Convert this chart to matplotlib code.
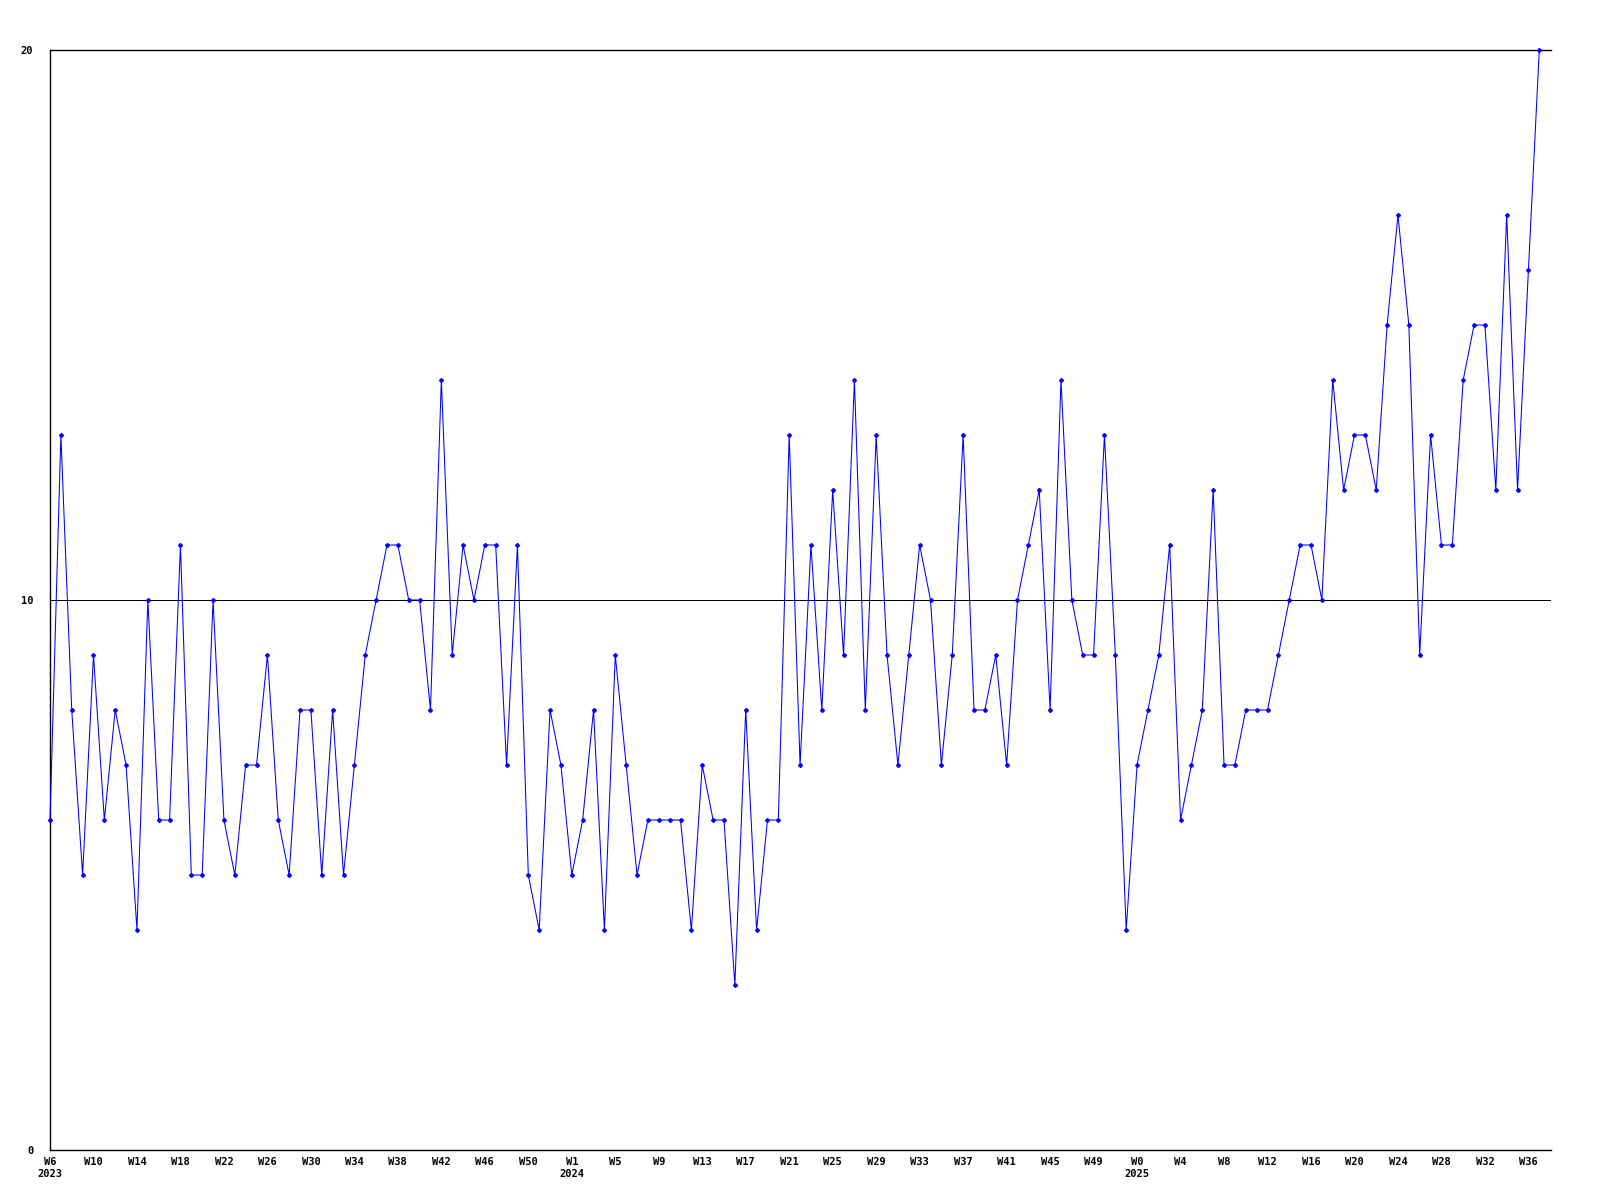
import matplotlib.pyplot as plt

plt.rcParams["font.family"] = ["DejaVu Sans Mono"]
plt.rcParams["font.weight"] = "bold"

# weekly counts, 2023 W6 .. 2025 W37
week_labels = (["W%d" % w for w in range(6, 53)] + ["W53"]
               + ["W%d" % w for w in range(1, 53)]
               + ["W%d" % w for w in range(0, 38)])
year_at = {0: "2023", 48: "2024", 100: "2025"}

counts_2023 = [6, 13, 8, 5, 9, 6, 8, 7, 4, 10, 6, 6, 11, 5, 5, 10, 6, 5, 7, 7,
               9, 6, 5, 8, 8, 5, 8, 5, 7, 9, 10, 11, 11, 10, 10, 8, 14, 9, 11, 10,
               11, 11, 7, 11, 5, 4, 8, 7]
counts_2024 = [5, 6, 8, 4, 9, 7, 5, 6, 6, 6, 6, 4, 7, 6, 6, 3, 8, 4, 6, 6,
               13, 7, 11, 8, 12, 9, 14, 8, 13, 9, 7, 9, 11, 10, 7, 9, 13, 8, 8, 9,
               7, 10, 11, 12, 8, 14, 10, 9, 9, 13, 9, 4]
counts_2025 = [7, 8, 9, 11, 6, 7, 8, 12, 7, 7, 8, 8, 8, 9, 10, 11, 11, 10, 14, 12,
               13, 13, 12, 15, 17, 15, 9, 13, 11, 11, 14, 15, 15, 12, 17, 12, 16, 20]
counts = counts_2023 + counts_2024 + counts_2025

fig = plt.figure(figsize=(16, 12), dpi=100)
ax = fig.add_axes([50 / 1600, 50 / 1200, 1500.7 / 1600, 1100 / 1200])

x = list(range(len(counts)))
ax.plot(x, counts, color="#0000ff", lw=0.75, marker="D", ms=2.0, clip_on=False, zorder=3)

# lines at 10 and 20
ax.axhline(10, color="black", lw=0.75)
ax.axhline(20, color="black", lw=1.0, clip_on=False)

ax.set_xlim(0, 138.05)
ax.set_ylim(0, 20)
ax.spines["top"].set_visible(False)
ax.spines["right"].set_visible(False)
ax.spines["left"].set_linewidth(1.0)
ax.spines["bottom"].set_linewidth(1.0)

ax.set_yticks([0, 10, 20])
ax.set_yticklabels(["0", "10", "20"])

ticks = list(range(0, len(counts), 4))
labels = []
for i in ticks:
    lab = week_labels[i]
    if i in year_at:
        lab = lab + "\n" + year_at[i]
    labels.append(lab)
ax.set_xticks(ticks)
ax.set_xticklabels(labels, linespacing=1.3)

ax.tick_params(axis="y", length=0, pad=12, labelsize=7.5)
ax.tick_params(axis="x", length=0, pad=5, labelsize=7.5)

plt.savefig("out.png", dpi=100)
